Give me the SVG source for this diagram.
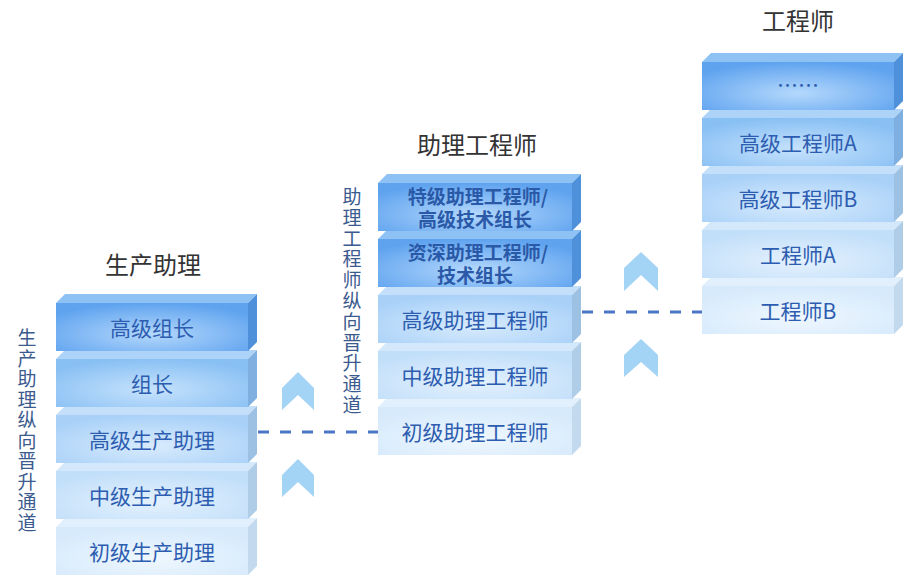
<svg xmlns="http://www.w3.org/2000/svg" width="904" height="578" viewBox="0 0 904 578">
<style>
.lbl{font-family:"Noto Sans CJK SC","Noto Sans",sans-serif;font-size:21px;fill:#2d5db0;text-anchor:middle;dominant-baseline:central}
.bold{font-weight:bold;font-size:19px;fill:#2a59a8}
.title{font-family:"Noto Sans CJK SC","Noto Sans",sans-serif;font-size:24px;fill:#333;text-anchor:middle}
.vert{font-family:"Noto Sans CJK SC","Noto Sans",sans-serif;font-size:19px;fill:#3b5a8e;text-anchor:middle;dominant-baseline:central}
.dash{stroke:#4a76c6;stroke-width:3;stroke-dasharray:11 11;fill:none}
.chev{fill:#a3d3f5}
.t1{fill:#8ec2f5}.s1{fill:#4f90da}
.t2{fill:#aed3f8}.s2{fill:#7eafe0}
.t3{fill:#c3dffa}.s3{fill:#9cc1e3}
.t4{fill:#d3e8fb}.s4{fill:#b0cde8}
.t5{fill:#e2f0fd}.s5{fill:#c3daee}
</style>
<defs>
<radialGradient id="g1" cx="50%" cy="65%" r="65%"><stop offset="0" stop-color="#b4d8fc"/><stop offset="1" stop-color="#5fa3ef"/></radialGradient>
<radialGradient id="g2" cx="50%" cy="65%" r="65%"><stop offset="0" stop-color="#c6e2fc"/><stop offset="1" stop-color="#89c0f4"/></radialGradient>
<radialGradient id="g3" cx="50%" cy="65%" r="65%"><stop offset="0" stop-color="#d8ebfd"/><stop offset="1" stop-color="#a9d1f8"/></radialGradient>
<radialGradient id="g4" cx="50%" cy="65%" r="65%"><stop offset="0" stop-color="#e4f1fe"/><stop offset="1" stop-color="#c2dff9"/></radialGradient>
<radialGradient id="g5" cx="50%" cy="65%" r="65%"><stop offset="0" stop-color="#eff7fe"/><stop offset="1" stop-color="#d6eafc"/></radialGradient>
</defs>

<text class="title" x="153" y="274">生产助理</text>
<text class="title" x="477" y="154">助理工程师</text>
<text class="title" x="798" y="30">工程师</text>

<g id="left-axis">
<text class="vert"><tspan x="27" y="336">生</tspan><tspan x="27" y="356.5">产</tspan><tspan x="27" y="377">助</tspan><tspan x="27" y="397.5">理</tspan><tspan x="27" y="418">纵</tspan><tspan x="27" y="438.5">向</tspan><tspan x="27" y="459">晋</tspan><tspan x="27" y="479.5">升</tspan><tspan x="27" y="500">通</tspan><tspan x="27" y="520.5">道</tspan></text>
</g>
<g id="mid-axis">
<text class="vert"><tspan x="352" y="195">助</tspan><tspan x="352" y="215.8">理</tspan><tspan x="352" y="236.6">工</tspan><tspan x="352" y="257.4">程</tspan><tspan x="352" y="278.2">师</tspan><tspan x="352" y="299">纵</tspan><tspan x="352" y="319.8">向</tspan><tspan x="352" y="340.6">晋</tspan><tspan x="352" y="361.4">升</tspan><tspan x="352" y="382.2">通</tspan><tspan x="352" y="403">道</tspan></text>
</g>

<!-- left stack -->
<g id="l5"><polygon class="t5" points="56,527 65,518 257,518 248,527"/><polygon class="s5" points="248,527 257,518 257,566 248,575"/><rect x="56" y="527" width="192" height="48" fill="url(#g5)"/><text class="lbl" x="152" y="551">初级生产助理</text></g>
<g id="l4"><polygon class="t4" points="56,471 65,462 257,462 248,471"/><polygon class="s4" points="248,471 257,462 257,510 248,519"/><rect x="56" y="471" width="192" height="48" fill="url(#g4)"/><text class="lbl" x="152" y="495">中级生产助理</text></g>
<g id="l3"><polygon class="t3" points="56,415 65,406 257,406 248,415"/><polygon class="s3" points="248,415 257,406 257,454 248,463"/><rect x="56" y="415" width="192" height="48" fill="url(#g3)"/><text class="lbl" x="152" y="439">高级生产助理</text></g>
<g id="l2"><polygon class="t2" points="56,359 65,350 257,350 248,359"/><polygon class="s2" points="248,359 257,350 257,398 248,407"/><rect x="56" y="359" width="192" height="48" fill="url(#g2)"/><text class="lbl" x="152" y="383">组长</text></g>
<g id="l1"><polygon class="t1" points="56,303 65,294 257,294 248,303"/><polygon class="s1" points="248,303 257,294 257,342 248,351"/><rect x="56" y="303" width="192" height="48" fill="url(#g1)"/><text class="lbl" x="152" y="327">高级组长</text></g>

<!-- middle stack -->
<g id="m5"><polygon class="t5" points="378,407 387,398 581,398 572,407"/><polygon class="s5" points="572,407 581,398 581,446 572,455"/><rect x="378" y="407" width="194" height="48" fill="url(#g5)"/><text class="lbl" x="475" y="431">初级助理工程师</text></g>
<g id="m4"><polygon class="t4" points="378,351 387,342 581,342 572,351"/><polygon class="s4" points="572,351 581,342 581,390 572,399"/><rect x="378" y="351" width="194" height="48" fill="url(#g4)"/><text class="lbl" x="475" y="375">中级助理工程师</text></g>
<g id="m3"><polygon class="t3" points="378,295 387,286 581,286 572,295"/><polygon class="s3" points="572,295 581,286 581,334 572,343"/><rect x="378" y="295" width="194" height="48" fill="url(#g3)"/><text class="lbl" x="475" y="319">高级助理工程师</text></g>
<g id="m2"><polygon class="t1" points="378,239 387,230 581,230 572,239"/><polygon class="s1" points="572,239 581,230 581,278 572,287"/><rect x="378" y="239" width="194" height="48" fill="url(#g1)"/><text class="lbl bold" x="478" y="251">资深助理工程师/</text><text class="lbl bold" x="475" y="274">技术组长</text></g>
<g id="m1"><polygon class="t1" points="378,183 387,174 581,174 572,183"/><polygon class="s1" points="572,183 581,174 581,222 572,231"/><rect x="378" y="183" width="194" height="48" fill="url(#g1)"/><text class="lbl bold" x="478" y="195">特级助理工程师/</text><text class="lbl bold" x="475" y="218">高级技术组长</text></g>

<!-- right stack -->
<g id="r5"><polygon class="t5" points="702,286 711,277 903,277 894,286"/><polygon class="s5" points="894,286 903,277 903,325 894,334"/><rect x="702" y="286" width="192" height="48" fill="url(#g5)"/><text class="lbl" x="798" y="310">工程师B</text></g>
<g id="r4"><polygon class="t4" points="702,230 711,221 903,221 894,230"/><polygon class="s4" points="894,230 903,221 903,269 894,278"/><rect x="702" y="230" width="192" height="48" fill="url(#g4)"/><text class="lbl" x="798" y="254">工程师A</text></g>
<g id="r3"><polygon class="t3" points="702,174 711,165 903,165 894,174"/><polygon class="s3" points="894,174 903,165 903,213 894,222"/><rect x="702" y="174" width="192" height="48" fill="url(#g3)"/><text class="lbl" x="798" y="198">高级工程师B</text></g>
<g id="r2"><polygon class="t2" points="702,118 711,109 903,109 894,118"/><polygon class="s2" points="894,118 903,109 903,157 894,166"/><rect x="702" y="118" width="192" height="48" fill="url(#g2)"/><text class="lbl" x="798" y="142">高级工程师A</text></g>
<g id="r1"><polygon class="t1" points="702,62 711,53 903,53 894,62"/><polygon class="s1" points="894,62 903,53 903,101 894,110"/><rect x="702" y="62" width="192" height="48" fill="url(#g1)"/><text class="lbl" x="798" y="84">……</text></g>

<g id="connectors">
<line class="dash" x1="258" y1="432" x2="378" y2="432"/>
<line class="dash" x1="582" y1="312" x2="702" y2="312"/>
<polygon class="chev" points="282,388 298,372 314,388 314,410 298,395 282,410"/>
<polygon class="chev" points="282,475 298,459 314,475 314,497 298,482 282,497"/>
<polygon class="chev" points="624,268 641,252 658,268 658,291 641,275 624,291"/>
<polygon class="chev" points="624,355 641,339 658,355 658,377 641,362 624,377"/>
</g>
</svg>
